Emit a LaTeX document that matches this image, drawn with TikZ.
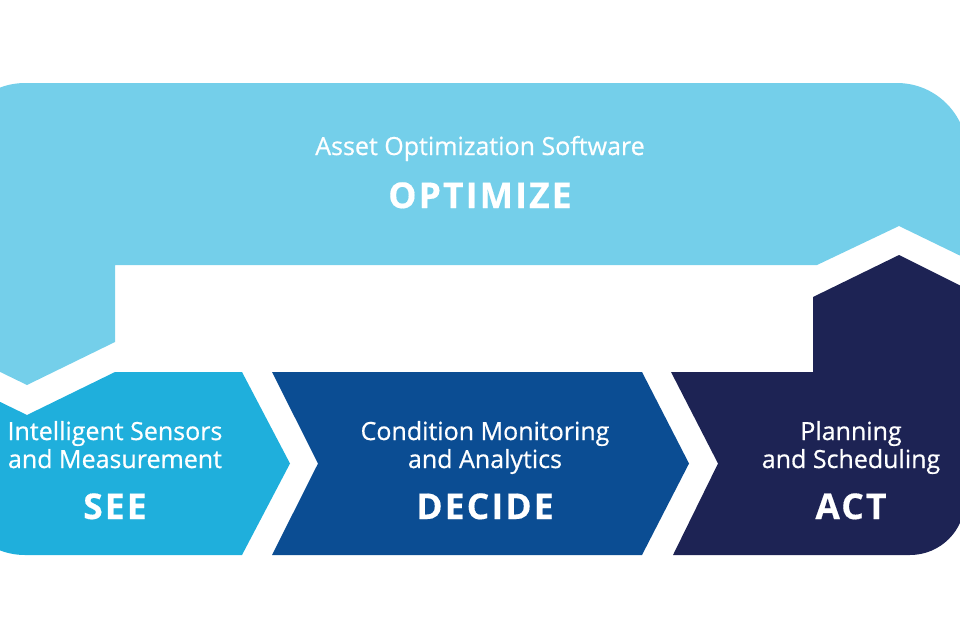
\documentclass[tikz,border=0pt]{standalone}
\usepackage{fontspec}
\setmainfont{Open Sans}
\newfontfamily\subfont{Open Sans}[FakeBold=0.6]
\newfontfamily\bigfont{Open Sans}[LetterSpace=6,FakeBold=0.4]
\definecolor{optblue}{HTML}{74CFEA}
\definecolor{seeblue}{HTML}{1FAFDC}
\definecolor{decideblue}{HTML}{0B4D93}
\definecolor{actnavy}{HTML}{1D2354}
\tikzset{
  subtext/.style={text=white, font=\subfont\fontsize{25}{28}\selectfont, align=center, anchor=base},
  bigtext/.style={text=white, font=\bigfont\bfseries\fontsize{35.5}{40}\selectfont, anchor=base}
}
\begin{document}
\begin{tikzpicture}[x=1pt,y=-1pt]
\def\optimizeband{(-45,153) arc[start angle=180,end angle=270,radius=70] -- (897,83) arc[start angle=-90,end angle=0,radius=70] -- (967,259) -- (899,226) -- (817,265) -- (115,265) -- (115,342) -- (27,385) -- (-45,350) -- cycle}
\def\seearrow{(-45,380) -- (27,415) -- (115,372) -- (242,372) -- (290,463.5) -- (242,555) -- (25,555) arc[start angle=90,end angle=180,radius=70] -- cycle}
\def\decidearrow{(272,372) -- (642,372) -- (689,463.5) -- (642,555) -- (272,555) -- (318,463.5) -- cycle}
\def\actblock{(671,372) -- (813,372) -- (813,297) -- (899,255) -- (965,288) -- (965,500) arc[start angle=0,end angle=90,radius=55] -- (673,555) -- (718,463.5) -- cycle}

\useasboundingbox (0,0) rectangle (960,640);
\clip (0,0) rectangle (960,640);

\fill[optblue] \optimizeband;
\fill[seeblue] \seearrow;
\fill[decideblue] \decidearrow;
\fill[actnavy] \actblock;

% base anchor sits on the last line
\node[subtext] (optsub) at (480,155) {Asset Optimization Software};
\node[bigtext] (opt) at (480,208) {OPTIMIZE};

\node[subtext] (seesub) at (115,468) {Intelligent Sensors\\and Measurement};
\node[bigtext] (see) at (115,519) {SEE};

\node[subtext] (decidesub) at (485,468) {Condition Monitoring\\and Analytics};
\node[bigtext] (decide) at (485,519) {DECIDE};

\node[subtext] (actsub) at (851,468) {Planning\\and Scheduling};
\node[bigtext] (act) at (851,519) {ACT};

\end{tikzpicture}
\end{document}
